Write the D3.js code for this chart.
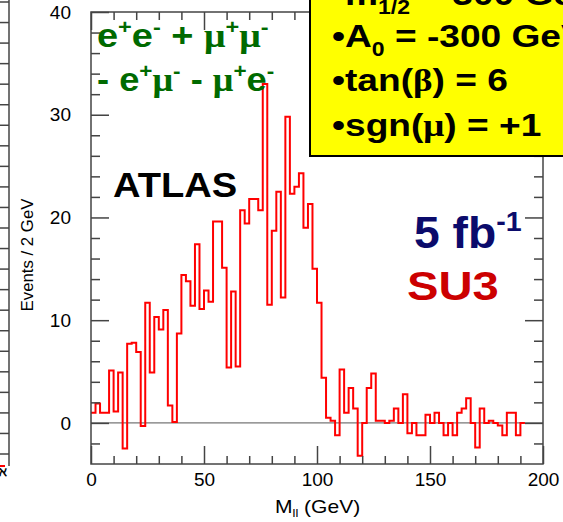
<!DOCTYPE html>
<html><head><meta charset="utf-8">
<script src="https://cdn.jsdelivr.net/npm/d3@7"></script>
<style>html,body{margin:0;padding:0;background:#fff;overflow:hidden}</style>
</head><body>
<svg id="c" width="563" height="522"></svg>
<script>
// ---- data ----
const binWidth = 2; // GeV
const binLowEdges = [0,2,4,6,8,10,12,14,16,18,20,22,24,26,28,30,32,34,36,38,40,42,44,46,48,50,52,54,56,58,60,62,64,66,68,70,72,74,76,78,80,82,84,86,88,90,92,94,96,98,100,102,104,106,108,110,112,114,116,118,120,122,124,126,128,130,132,134,136,138,140,142,144,146,148,150,152,154,156,158,160,162,164,166,168,170,172,174,176,178,180,182,184,186,188,190];
const events = [1.0,1.9,1.0,1.0,5.1,1.1,4.9,-2.5,7.7,7.8,6.9,-0.3,11.7,4.9,10.3,9.1,11.0,1.7,0.1,8.7,
  14.4,13.8,11.4,17.4,11.1,12.9,11.8,19.6,19.6,15.1,5.4,12.8,5.5,20.7,19.4,21.8,21.8,20.7,33.0,11.5,
  18.7,22.5,12.2,29.8,22.3,23.0,24.3,19.0,21.3,15.0,11.7,4.4,0.5,0.2,-1.2,5.2,1.0,3.4,1.4,-3.2,
  0,3.4,4.8,0.2,0.2,0,0.2,1.4,0,2.8,-1.0,0,-1.2,-1.2,0.8,0,1.0,0,-1.2,0,
  -1.2,1.0,1.4,2.4,0,-2.4,1.4,0,0.2,0,-0.25,-1.2,1.0,1.0,-1.2,0];
const xDomain = [0,200];
const yDomain = [-4,40];
const xMajorTicks = [0,50,100,150,200];
const xMinorTicks = [10,20,30,40,60,70,80,90,110,120,130,140,160,170,180,190];
const yMajorTicks = [0,10,20,30,40];
const yMinorTicks = [-2,2,4,6,8,12,14,16,18,22,24,26,28,32,34,36,38];
const yTitle = "Events / 2 GeV";
const boxLines = [
  [["•m",""],["1/2","sub"],[" = 300 GeV",""]],
  [["•A",""],["0","sub"],[" = -300 GeV",""]],
  [["•tan(",""],["β","greek"],[") = 6",""]],
  [["•sgn(",""],["μ","greek"],[") = +1",""]]
];
const channelLine1 = [["e",""],["+","sup"],["e",""],["-","sup"],[" + ",""],["μ","greek"],["+","sup"],["μ","greek"],["-","sup"]];
const channelLine2 = [["- e",""],["+","sup"],["μ","greek"],["-","sup"],[" - ",""],["μ","greek"],["+","sup"],["e",""],["-","sup"]];

// ---- drawing ----
const svg = d3.select("#c");
const x = d3.scaleLinear().domain(xDomain).range([91,543]);
const y = d3.scaleLinear().domain(yDomain).range([464,12]);
const AX = "#444";
const SANS = "'Liberation Sans', Arial, Helvetica, sans-serif";
const SERIF = "'Liberation Serif', 'Times New Roman', serif";

function placed(x0, y0, sx){
  return svg.append("text").attr("x",0).attr("y",0)
    .attr("transform",`translate(${x0},${y0}) scale(${sx},1)`).attr("font-family",SANS);
}

// left cut-off neighbour panel
svg.append("line").attr("x1",9).attr("x2",9).attr("y1",0).attr("y2",466).attr("stroke",AX).attr("stroke-width",1.5);
const nb = svg.append("g").attr("transform","translate(9,-10.5)")
  .call(d3.axisLeft(y).tickValues(yMinorTicks.concat(yMajorTicks).concat([-4])).tickSize(9).tickFormat(""));
nb.select(".domain").remove();
nb.selectAll("line").attr("stroke",AX).attr("stroke-width",1.5);
svg.append("line").attr("x1",0).attr("x2",5).attr("y1",466).attr("y2",466).attr("stroke","red").attr("stroke-width",2);
svg.append("text").attr("x",-1).attr("y",476).attr("font-family",SANS).attr("font-weight","bold").attr("font-size",13).text("ℵ");

// zero line
svg.append("line").attr("x1",x(xDomain[0])).attr("x2",x(xDomain[1])).attr("y1",y(0)).attr("y2",y(0))
  .attr("stroke","#555").attr("stroke-width",1);

// histogram
const pts = [];
events.forEach((v,i)=>{ pts.push([binLowEdges[i],v]); pts.push([binLowEdges[i]+binWidth,v]); });
svg.append("path").attr("d", d3.line().x(d=>x(d[0])).y(d=>y(d[1]))(pts))
  .attr("fill","none").attr("stroke","#ff0000").attr("stroke-width",2).attr("stroke-linejoin","miter");

// axes
function styleAxis(g){ g.select(".domain").remove(); g.selectAll("line").attr("stroke",AX).attr("stroke-width",1.5);
  g.selectAll("text").attr("font-family",SANS).attr("font-size",19).attr("fill","#000"); }
svg.append("g").attr("transform","translate(91,0)").call(d3.axisLeft(y).tickValues(yMajorTicks).tickSize(-18).tickPadding(20)).call(styleAxis);
svg.append("g").attr("transform","translate(91,0)").call(d3.axisLeft(y).tickValues(yMinorTicks).tickSize(-9).tickFormat("")).call(styleAxis);
svg.append("g").attr("transform","translate(543,0)").call(d3.axisRight(y).tickValues(yMajorTicks).tickSize(-18).tickFormat("")).call(styleAxis);
svg.append("g").attr("transform","translate(543,0)").call(d3.axisRight(y).tickValues(yMinorTicks).tickSize(-9).tickFormat("")).call(styleAxis);
svg.append("g").attr("transform","translate(0,464)").call(d3.axisBottom(x).tickValues(xMajorTicks).tickSize(-18).tickPadding(9)).call(styleAxis);
svg.append("g").attr("transform","translate(0,464)").call(d3.axisBottom(x).tickValues(xMinorTicks).tickSize(-8).tickFormat("")).call(styleAxis);
svg.append("g").attr("transform","translate(0,12)").call(d3.axisTop(x).tickValues(xMajorTicks).tickSize(-18).tickFormat("")).call(styleAxis);
svg.append("g").attr("transform","translate(0,12)").call(d3.axisTop(x).tickValues(xMinorTicks).tickSize(-8).tickFormat("")).call(styleAxis);

// frame
svg.append("rect").attr("x",91).attr("y",12).attr("width",452).attr("height",452)
  .attr("fill","none").attr("stroke",AX).attr("stroke-width",1.5);

// axis titles
svg.append("text").attr("transform","translate(33,255) rotate(-90) scale(1.05,1)").attr("text-anchor","middle")
  .attr("font-family",SANS).attr("font-size",16).text(yTitle);
const xt = placed(275, 513, 1.17).attr("font-size",18);
xt.append("tspan").text("M");
xt.append("tspan").attr("font-size",11).attr("dy",4).text("ll");
xt.append("tspan").attr("dy",-4).text(" (GeV)");

// rich text helper
function rich(sel, segs, size, supShift, subShift){
  let shift = 0;
  segs.forEach(([t,k])=>{
    const sp = sel.append("tspan").text(t);
    let target = 0;
    if(k==="sup"){ sp.attr("font-size",size*0.62); target = -supShift; }
    else if(k==="sub"){ sp.attr("font-size",size*0.62); target = subShift; }
    else if(k==="greek"){ sp.attr("font-family",SERIF); }
    sp.attr("dy", target - shift); shift = target;
  });
}

// green channel text
const g1 = placed(97, 47, 1.15).attr("font-weight","bold").attr("font-size",33).attr("fill","#006a00");
rich(g1, channelLine1, 33, 13, 8);
const g2 = placed(97, 91, 1.10).attr("font-weight","bold").attr("font-size",33).attr("fill","#006a00");
rich(g2, channelLine2, 33, 13, 8);

// ATLAS
placed(113, 197, 1.09).attr("font-weight","bold").attr("font-size",35).text("ATLAS");

// yellow box
svg.append("rect").attr("x",310).attr("y",-20).attr("width",280).attr("height",176).attr("fill","#ffff00").attr("stroke","#000").attr("stroke-width",2);
const boxBase = [5,47,91,136];
boxLines.forEach((segs,i)=>{
  const t = placed(332, boxBase[i], 1.16).attr("font-weight","bold").attr("font-size",32).attr("fill","#000");
  rich(t, segs, 32, 12, 9);
});

// luminosity & point
const lum = placed(414, 248, 1.05).attr("font-weight","bold").attr("font-size",44).attr("fill","#0b0b6b");
rich(lum, [["5 fb",""],["-1","sup"]], 44, 17, 0);
placed(407, 300, 1.18).attr("font-weight","bold").attr("font-size",40).attr("fill","#cc0000").text("SU3");
</script>
</body></html>
